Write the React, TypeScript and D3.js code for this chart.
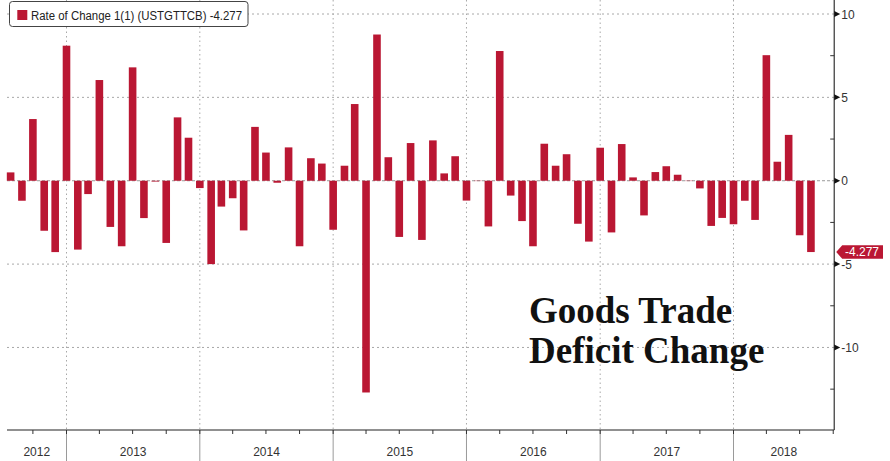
import React from "react";
import * as d3 from "d3";

const START_YEAR = 2012;
const START_MONTH = 7; // August (0-based)
const values: number[] = [
  0.5, -1.2, 3.7, -3.0, -4.28,
  8.1, -4.13, -0.8, 6.04, -2.77, -3.93, 6.8, -2.24, -0.05, -3.73, 3.8, 2.58,
  -0.44, -5.0, -1.55, -1.05, -2.98, 3.23, 1.69, -0.12, 2.0, -3.93, 1.35, 1.03,
  -2.94, 0.9, 4.6, -12.7, 8.77, 1.41, -3.37, 2.26, -3.55, 2.42, 0.44, 1.47,
  -1.19, -0.02, -2.74, 7.78, -0.89, -2.42, -3.93, 2.22, 0.9, 1.59, -2.58, -3.65,
  1.98, -3.1, 2.2, 0.2, -2.08, 0.52, 0.87, 0.36, -0.02, -0.46, -2.71, -2.23,
  -2.61, -1.2, -2.35, 7.53, 1.14, 2.75, -3.27, -4.277,
];
const dates: Date[] = values.map((_, i) => new Date(START_YEAR, START_MONTH + i, 1));
const yearLabels: number[] = [2012, 2013, 2014, 2015, 2016, 2017, 2018];
const yTicks: number[] = [10, 5, 0, -5, -10];
const yMinorTicks: number[] = [7.5, 2.5, -2.5, -7.5, -12.5];
const legendText = "Rate of Change 1(1) (USTGTTCB)  -4.277";
const lastLabel = "-4.277";
const titleLines = ["Goods Trade", "Deficit Change"];

const W = 890;
const H = 461;
const RED = "#BA1733";

export default function App() {
  const x = d3
    .scaleTime()
    .domain([new Date(2013, 0, 1), new Date(2018, 0, 1)])
    .range([66.5, 733.5]);
  const y = d3.scaleLinear().domain([-14.95, 10.84]).range([430, 0]);
  const left = 7;
  const right = x(new Date(2018, 9, 1)) + 1;
  const axisY = 430;
  const barW = 7.6;
  const last = values[values.length - 1];
  const ly = y(last);

  const quarters = d3.timeMonth
    .every(3)!
    .range(new Date(2012, 9, 1), new Date(2018, 9, 2));
  const yearBounds = yearLabels.slice(1).map((yr) => new Date(yr, 0, 1));

  return (
    <svg
      width={W}
      height={H}
      style={{ position: "absolute", left: 0, top: 0, background: "#fff" }}
      fontFamily="'Liberation Sans', Arial, sans-serif"
    >
      <rect x={0} y={0} width={W} height={H} fill="#fff" />
      {/* horizontal grid */}
      {yTicks
        .filter((t) => t !== 0)
        .map((t) => (
          <line
            key={"hg" + t}
            x1={left}
            x2={right}
            y1={y(t)}
            y2={y(t)}
            stroke="#a8a8a8"
            strokeWidth={1}
            strokeDasharray="2 3"
          />
        ))}
      <line
        x1={left}
        x2={right}
        y1={y(0)}
        y2={y(0)}
        stroke="#999"
        strokeWidth={1}
        strokeDasharray="3 2"
      />
      {/* vertical year grid */}
      {yearBounds.map((d, i) => (
        <g key={"vg" + i}>
          <line
            x1={x(d)}
            x2={x(d)}
            y1={0}
            y2={axisY}
            stroke="#a8a8a8"
            strokeWidth={1}
            strokeDasharray="1.5 3"
          />
          <line x1={x(d)} x2={x(d)} y1={axisY} y2={H} stroke="#9a9a9a" strokeWidth={1} />
        </g>
      ))}
      {/* bars */}
      {values.map((v, i) => (
        <rect
          key={"b" + i}
          x={x(dates[i]) - barW / 2}
          y={Math.min(y(v), y(0))}
          width={barW}
          height={Math.abs(y(v) - y(0))}
          fill={RED}
        />
      ))}
      {/* title */}
      {titleLines.map((t, i) => (
        <text
          key={"t" + i}
          x={529}
          y={323 + i * 40}
          fontFamily="'Liberation Serif', 'DejaVu Serif', serif"
          fontWeight="bold"
          fontSize={37}
          fill="#111"
        >
          {t}
        </text>
      ))}
      {/* bottom axis */}
      <line x1={left} x2={right} y1={axisY} y2={axisY} stroke="#222" strokeWidth={1.2} />
      {quarters.map((d, i) => (
        <line
          key={"q" + i}
          x1={x(d)}
          x2={x(d)}
          y1={axisY}
          y2={axisY + 4}
          stroke="#333"
          strokeWidth={1}
        />
      ))}
      {yearLabels.map((yr) => {
        const a = Math.max(left, x(new Date(yr, 0, 1)));
        const b = Math.min(right, x(new Date(yr + 1, 0, 1)));
        return (
          <text
            key={"yl" + yr}
            x={(a + b) / 2}
            y={456}
            textAnchor="middle"
            fontSize={12}
            fill="#333"
          >
            {yr}
          </text>
        );
      })}
      {/* right axis */}
      <line x1={right} x2={right} y1={0} y2={axisY} stroke="#333" strokeWidth={1.2} />
      {yMinorTicks.map((t) => (
        <line
          key={"mt" + t}
          x1={right - 4}
          x2={right}
          y1={y(t)}
          y2={y(t)}
          stroke="#333"
          strokeWidth={1}
        />
      ))}
      {yTicks.map((t) => (
        <g key={"yt" + t}>
          <path
            d={`M${right},${y(t) - 3}L${right + 6},${y(t)}L${right},${y(t) + 3}Z`}
            fill="#111"
          />
          <text
            x={right + 7}
            y={y(t) + 4.5}
            fontSize={12}
            fill="#333"
          >
            {t}
          </text>
        </g>
      ))}
      {/* last value tag */}
      <path
        d={`M${right + 2},${ly}L${right + 8},${ly - 6.7}L${883},${ly - 6.7}L${883},${ly + 6.7}L${right + 8},${ly + 6.7}Z`}
        fill={RED}
      />
      <text x={862} y={ly + 4.3} textAnchor="middle" fontSize={12} fill="#fff">
        {lastLabel}
      </text>
      {/* legend */}
      <rect
        x={9.5}
        y={1.5}
        width={238.5}
        height={25}
        rx={3}
        fill="#fff"
        stroke="#444"
        strokeWidth={1}
      />
      <rect x={17.3} y={10} width={10} height={10} fill={RED} />
      <text
        x={31}
        y={19.5}
        fontSize={12.5}
        fill="#222"
        textLength={211}
        lengthAdjust="spacingAndGlyphs"
      >
        {legendText}
      </text>
    </svg>
  );
}
